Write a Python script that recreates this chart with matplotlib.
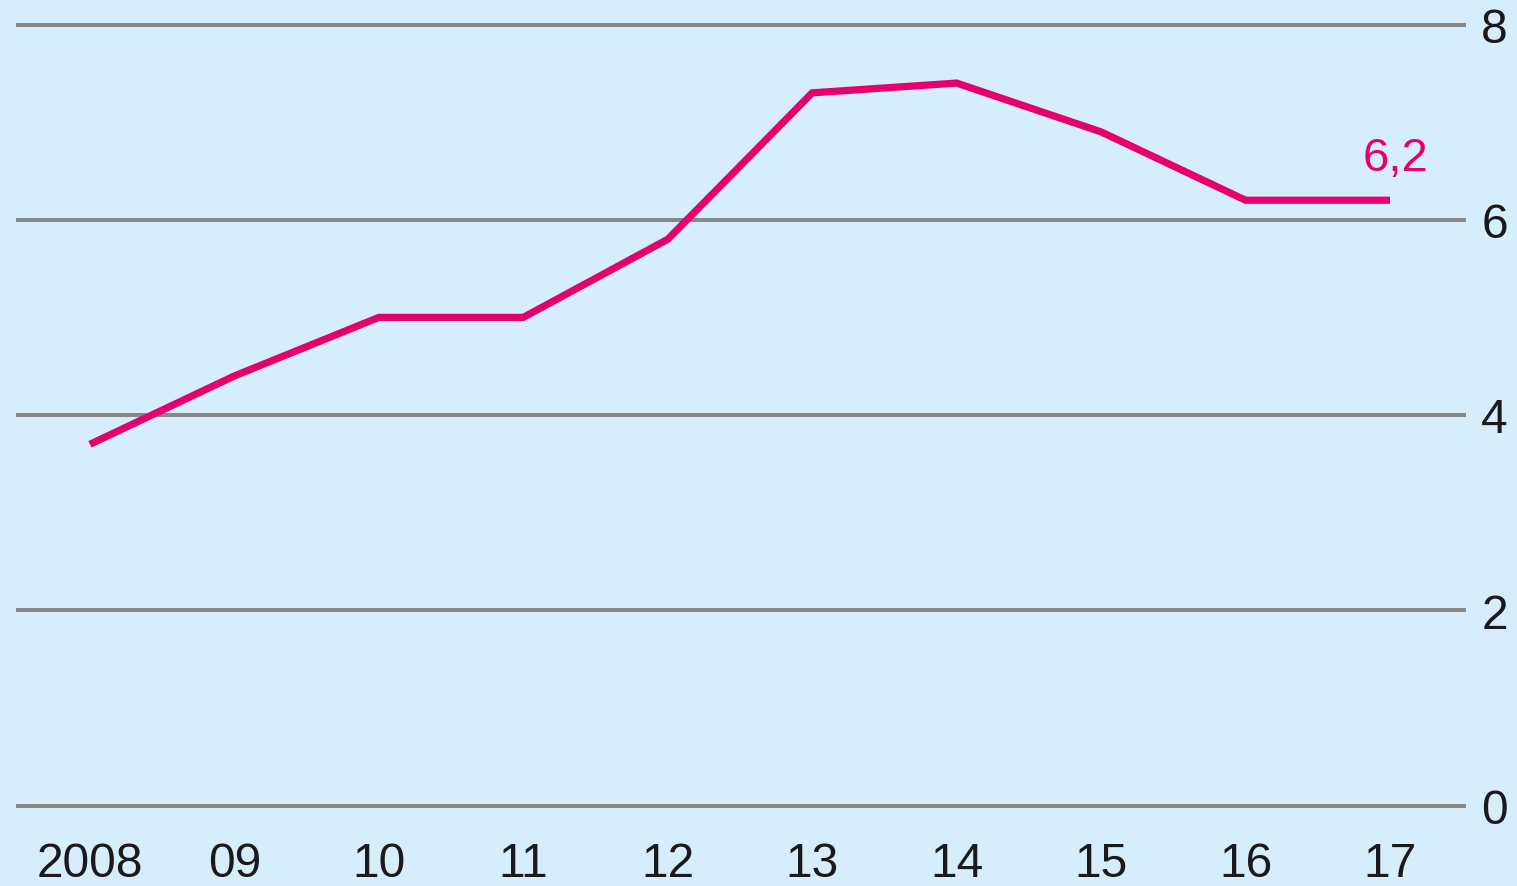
import matplotlib
matplotlib.use("Agg")
import matplotlib.pyplot as plt

years = [2008, 2009, 2010, 2011, 2012, 2013, 2014, 2015, 2016, 2017]
year_labels = ["2008", "09", "10", "11", "12", "13", "14", "15", "16", "17"]
values = [3.7, 4.4, 5.0, 5.0, 5.8, 7.3, 7.4, 6.9, 6.2, 6.2]
y_ticks = [0, 2, 4, 6, 8]
last_label = "6,2"

bg = "#d6edfc"
plt.rcParams['font.family'] = ['Liberation Sans', 'DejaVu Sans']

fig = plt.figure(figsize=(15.17, 8.87), dpi=100, facecolor=bg)
ax = fig.add_axes([16/1517, 80.5/887, 1450/1517, 781/887])
ax.set_facecolor(bg)

for t in y_ticks:
    ax.axhline(t, color="#878787", lw=2.9, zorder=1, clip_on=False,
               solid_capstyle="butt")

ax.plot(years, values, color="#e5006e", lw=5.2, solid_joinstyle="miter",
        solid_capstyle="butt", zorder=3)
ax.text(years[-1] + 0.04, 6.63, last_label, color="#e5006e", fontsize=34,
        ha="center", va="center")

ax.set_xlim(2007.488, 2017.526)
ax.set_ylim(0, 8)
ax.set_xticks(years)
ax.set_xticklabels(year_labels)
ax.set_yticks(y_ticks)
ax.yaxis.tick_right()
ax.tick_params(axis="both", length=0, labelsize=34.5, colors="#1a1a1a")
ax.tick_params(axis="y", pad=11)
ax.tick_params(axis="x", pad=25.5)
for s in ax.spines.values():
    s.set_visible(False)

fig.savefig("out.png", dpi=100, facecolor=bg)
